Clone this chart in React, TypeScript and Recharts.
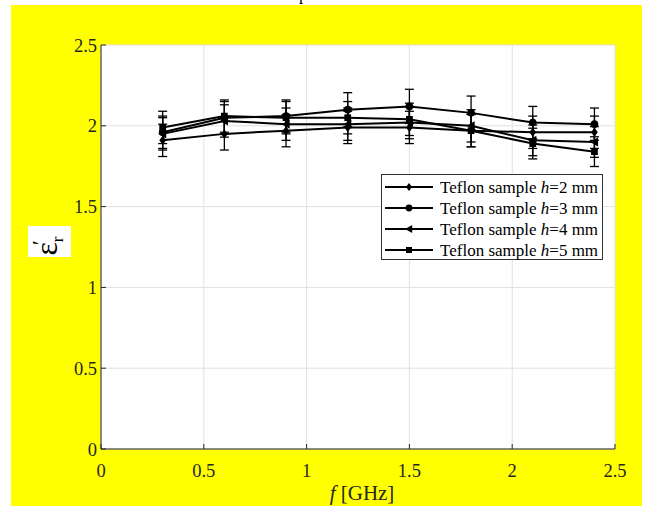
import { LineChart, Line, XAxis, YAxis, CartesianGrid, ErrorBar, Legend } from 'recharts'

const freqs = [0.3, 0.6, 0.9, 1.2, 1.5, 1.8, 2.1, 2.4]
const epsH2 = [1.91, 1.95, 1.97, 1.99, 1.99, 1.97, 1.96, 1.96]
const epsH3 = [1.96, 2.05, 2.06, 2.1, 2.12, 2.08, 2.02, 2.01]
const epsH4 = [1.95, 2.03, 2.01, 2.01, 2.02, 2.0, 1.91, 1.9]
const epsH5 = [1.99, 2.06, 2.05, 2.05, 2.04, 1.97, 1.89, 1.84]
const errH2 = [0.1, 0.1, 0.1, 0.1, 0.1, 0.1, 0.1, 0.1]
const errH3 = [0.1, 0.1, 0.1, 0.105, 0.106, 0.104, 0.1, 0.1]
const errH4 = [0.1, 0.1, 0.1, 0.1, 0.1, 0.1, 0.095, 0.095]
const errH5 = [0.1, 0.1, 0.1, 0.1, 0.1, 0.1, 0.095, 0.092]
const thickness = ['2', '3', '4', '5']
const xTicks = [0, 0.5, 1, 1.5, 2, 2.5]
const yTicks = [0, 0.5, 1, 1.5, 2, 2.5]

const data = freqs.map((f, i) => ({
  f,
  h2: epsH2[i],
  h3: epsH3[i],
  h4: epsH4[i],
  h5: epsH5[i],
  e2: errH2[i],
  e3: errH3[i],
  e4: errH4[i],
  e5: errH5[i],
}))

const FONT = '"Liberation Serif", "Times New Roman", serif'
const AXIS = '#262626'

type Shape = 'diamond' | 'circle' | 'triangle' | 'square'

function marker(shape: Shape, cx: number, cy: number, s: number, key?: string) {
  if (shape === 'diamond')
    return <path key={key} d={`M${cx},${cy - s} L${cx + s * 0.75},${cy} L${cx},${cy + s} L${cx - s * 0.75},${cy} Z`} fill="#000" />
  if (shape === 'circle') return <circle key={key} cx={cx} cy={cy} r={s * 0.85} fill="#000" />
  if (shape === 'triangle')
    return <path key={key} d={`M${cx - s},${cy} L${cx + s * 0.8},${cy - s} L${cx + s * 0.8},${cy + s} Z`} fill="#000" />
  return <rect key={key} x={cx - s * 0.75} y={cy - s * 0.75} width={s * 1.5} height={s * 1.5} fill="#000" />
}

const dotFor = (shape: Shape) => (p: any) => marker(shape, p.cx, p.cy, 4.5, `${shape}-${p.index}`)

const series: { key: string; err: string; shape: Shape }[] = [
  { key: 'h2', err: 'e2', shape: 'diamond' },
  { key: 'h3', err: 'e3', shape: 'circle' },
  { key: 'h4', err: 'e4', shape: 'triangle' },
  { key: 'h5', err: 'e5', shape: 'square' },
]

function XTick({ x, y, payload }: any) {
  return (
    <g>
      <line x1={x} x2={x} y1={y} y2={y - 5} stroke={AXIS} />
      <text x={x} y={y + 28} textAnchor="middle" fontSize={18.5} fill={AXIS} fontFamily={FONT}>
        {payload.value}
      </text>
    </g>
  )
}

function YTick({ x, y, payload }: any) {
  return (
    <g>
      <line x1={x} x2={x + 5} y1={y} y2={y} stroke={AXIS} />
      <text x={x - 4} y={y + 6.5} textAnchor="end" fontSize={18.5} fill={AXIS} fontFamily={FONT}>
        {payload.value}
      </text>
    </g>
  )
}

function TopTick({ x, y }: any) {
  return <line x1={x} x2={x} y1={y} y2={y + 5} stroke={AXIS} />
}

function RightTick({ x, y }: any) {
  return <line x1={x} x2={x - 5} y1={y} y2={y} stroke={AXIS} />
}

function XLabel({ viewBox }: any) {
  const cx = viewBox.x + viewBox.width / 2 + 4
  return (
    <text x={cx} y={viewBox.y + 51} textAnchor="middle" fontSize={21} fill={AXIS} fontFamily={FONT}>
      <tspan fontStyle="italic">f</tspan> [GHz]
    </text>
  )
}

function YLabel() {
  return (
    <g>
      <rect x={28} y={226} width={43} height={31} fill="#fff" />
      <g transform="translate(57,246) rotate(-90)">
        <text x={0} y={0} textAnchor="middle" fontSize={32} fill="#000" fontFamily={FONT}>
          ε<tspan fontSize={22} dx={-3} dy={-10}>′</tspan>
          <tspan fontSize={17} dx={-2} dy={16}>r</tspan>
        </text>
      </g>
    </g>
  )
}

function LegendBox() {
  return (
    <div style={{ width: 222, height: 86, background: '#fff', border: '1px solid #333', boxSizing: 'border-box' }}>
      <svg width={222} height={86}>
        {series.map((s, i) => {
          const cy = 12 + i * 21
          return (
            <g key={s.key}>
              <line x1={3} x2={51} y1={cy} y2={cy} stroke="#000" strokeWidth={2} />
              {marker(s.shape, 27, cy, 4)}
              <text x={58} y={cy + 5.5} fontSize={17} fill="#000" fontFamily={FONT}>
                Teflon sample <tspan fontStyle="italic">h</tspan>={thickness[i]} mm
              </text>
            </g>
          )
        })}
      </svg>
    </div>
  )
}

export default function App() {
  return (
    <div style={{ position: 'absolute', left: 0, top: 0, width: 653, height: 506, background: '#fff', overflow: 'hidden' }}>
      <div style={{ position: 'absolute', left: 11, top: 5, width: 631, height: 501, background: '#ffff00' }} />
      <svg width={653} height={10} style={{ position: 'absolute', left: 0, top: 0 }}>
        <text x={299} y={0} fontSize={17} fill="#000" fontFamily={FONT}>p</text>
      </svg>
      <div style={{ position: 'absolute', left: 0, top: 0 }}>
        <LineChart width={653} height={506} data={data} margin={{ top: 45, right: 38, bottom: 0, left: 0 }}>
          <CartesianGrid stroke="#e0e0e0" strokeWidth={1} fill="#fff" fillOpacity={1} horizontalValues={yTicks} verticalValues={xTicks} />
          <XAxis
            dataKey="f"
            type="number"
            domain={[0, 2.5]}
            ticks={xTicks}
            height={57}
            tickSize={0}
            tickMargin={0}
            tickLine={false}
            tick={<XTick />}
            stroke={AXIS}
            allowDataOverflow
            label={<XLabel />}
          />
          <XAxis
            xAxisId="top"
            orientation="top"
            dataKey="f"
            type="number"
            domain={[0, 2.5]}
            ticks={xTicks}
            height={0}
            tickSize={0}
            tickMargin={0}
            tickLine={false}
            tick={<TopTick />}
            stroke={AXIS}
          />
          <YAxis
            type="number"
            domain={[0, 2.5]}
            ticks={yTicks}
            width={101}
            tickSize={0}
            tickMargin={0}
            tickLine={false}
            tick={<YTick />}
            stroke={AXIS}
            label={<YLabel />}
          />
          <YAxis
            yAxisId="right"
            orientation="right"
            type="number"
            domain={[0, 2.5]}
            ticks={yTicks}
            width={0}
            tickSize={0}
            tickMargin={0}
            tickLine={false}
            tick={<RightTick />}
            stroke={AXIS}
          />
          <Legend
            layout="vertical"
            align="center"
            verticalAlign="middle"
            wrapperStyle={{ position: 'absolute', left: 381, top: 174, width: 222 }}
            content={() => <LegendBox />}
          />
          {series.map((s) => (
            <Line
              key={s.key}
              dataKey={s.key}
              stroke="#000"
              strokeWidth={2}
              dot={dotFor(s.shape)}
              activeDot={false}
              isAnimationActive={false}
            >
              <ErrorBar dataKey={s.err} direction="y" width={4.5} stroke="#000" strokeWidth={1.3} />
            </Line>
          ))}
        </LineChart>
      </div>
    </div>
  )
}
